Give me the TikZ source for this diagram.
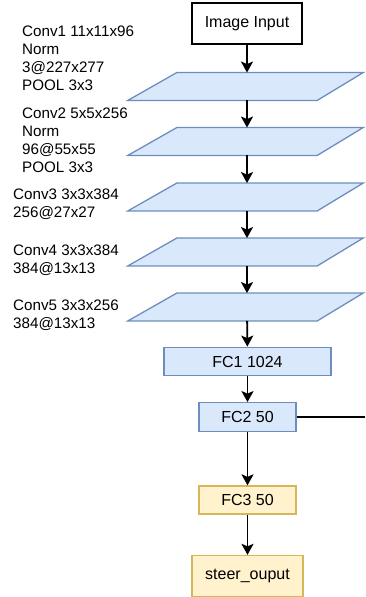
\documentclass[tikz,border=0pt]{standalone}
\usepackage{fontspec}
\setmainfont{Liberation Sans}
\usetikzlibrary{calc}
\usetikzlibrary{arrows.meta}

\definecolor{layerfill}{HTML}{DAE8FC}
\definecolor{layerdraw}{HTML}{6C8EBF}
\definecolor{outfill}{HTML}{FFF2CC}
\definecolor{outdraw}{HTML}{D6B656}

\begin{document}
\begin{tikzpicture}[x=1pt, y=-1pt, every node/.style={font=\fontsize{15.2}{18}\selectfont},
    flow/.style={-{Stealth[length=11pt, width=12pt, inset=2.5pt]}, line width=1.8pt},
    layercore/.style={minimum width=140pt, minimum height=27.5pt, inner sep=0pt},
    boxtext/.style={font=\fontsize{16}{19}\selectfont},
    fcbox/.style={boxtext, draw=layerdraw, fill=layerfill, line width=1.3pt, inner sep=0pt, minimum height=28.5pt},
    outbox/.style={boxtext, draw=outdraw, fill=outfill, line width=1.3pt, inner sep=0pt},
    convlabel/.style={anchor=west, align=left, inner sep=0pt}]

\useasboundingbox (0,0) rectangle (365,597);

% --- INPUT ---
\node[boxtext, draw, line width=1.5pt, minimum width=110pt, minimum height=41pt, inner sep=0pt] (img) at (247,23.5) {Image Input};

% --- CONVOLUTION LAYERS (parallelograms) ---
\node[layercore] (c1) at (247,86.5) {};
\node[layercore] (c2) at (247,141.5) {};
\node[layercore] (c3) at (247,197) {};
\node[layercore] (c4) at (247,252) {};
\node[layercore] (c5) at (247,307) {};

\foreach \c in {c1,c2,c3,c4,c5}
    \draw[layerdraw, fill=layerfill, line width=1.3pt]
        ($(\c.south west)+(-49,0)$) -- (\c.north west) -- ($(\c.north east)+(46,0)$) -- (\c.south east) -- cycle;

% Layer descriptions
\node[convlabel] (l1) at (22,58) {Conv1 11x11x96\\Norm\\3@227x277\\POOL 3x3};
\node[convlabel] (l2) at (22,140) {Conv2 5x5x256\\Norm\\96@55x55\\POOL 3x3};
\node[convlabel] (l3) at (13,204) {Conv3 3x3x384\\256@27x27};
\node[convlabel] (l4) at (13,260) {Conv4 3x3x384\\384@13x13};
\node[convlabel] (l5) at (13,315) {Conv5 3x3x256\\384@13x13};

% --- FULLY CONNECTED + OUTPUT ---
\node[fcbox, minimum width=167pt] (fc1) at (247.5,361.5) {FC1 1024};
\node[fcbox, minimum width=97pt] (fc2) at (247.5,417) {FC2 50};
\node[outbox, minimum width=97pt, minimum height=28pt] (fc3) at (247.5,500) {FC3 50};
\node[outbox, minimum width=111pt, minimum height=41pt] (out) at (247.5,576) {steer\_ouput};

\coordinate (side) at (365,417);

% --- CONNECTORS ---
\draw[flow] (img) -- (c1);
\draw[flow] (c1) -- (c2);
\draw[flow] (c2) -- (c3);
\draw[flow] (c3) -- (c4);
\draw[flow] (c4) -- (c5);
\draw[flow] (c5) -- (fc1);
\draw[flow] (fc1) -- (fc2);
\draw[flow] (fc2) -- (fc3);
\draw[flow] (fc3) -- (out);
\draw[line width=1.8pt] (fc2) -- (side);

\end{tikzpicture}
\end{document}
